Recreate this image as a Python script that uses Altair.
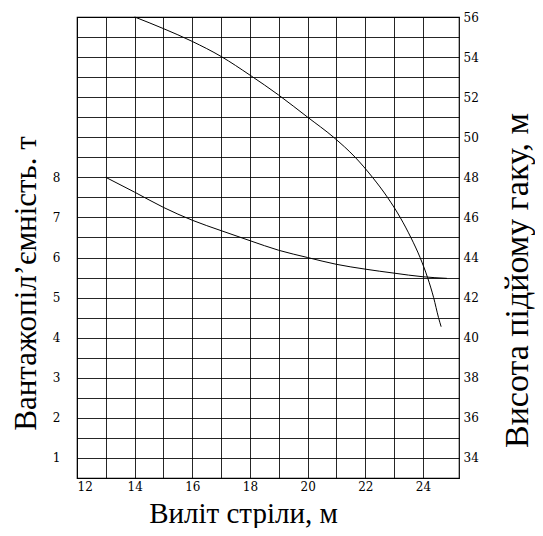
import altair as alt
import pandas as pd

# Load capacity curve (left axis, t)
reach_load = [13, 14, 15, 16, 17, 18, 19, 20, 21, 22, 23, 24, 24.83]
load_t = [8.0, 7.63, 7.25, 6.93, 6.67, 6.42, 6.18, 6.0, 5.83, 5.71, 5.61, 5.52, 5.48]

# Hook height curve (right axis, m)
reach_height = [14, 15, 16, 17, 18, 19, 20, 20.9, 21.65, 22.25, 22.77, 23.21, 23.58, 23.9, 24.16, 24.37, 24.54, 24.63]
hook_m = [56.0, 55.42, 54.78, 54.03, 53.1, 52.1, 51.0, 50.0, 49.0, 48.0, 47.0, 46.0, 45.0, 44.0, 43.0, 42.0, 41.0, 40.55]

x_grid = list(range(12, 25))
x_labels = [12, 14, 16, 18, 20, 22, 24]
left_labels = [1, 2, 3, 4, 5, 6, 7, 8]
right_grid = list(range(33, 57))
right_labels = list(range(34, 57, 2))

load_df = pd.DataFrame({"reach": reach_load, "load": load_t})
height_df = pd.DataFrame({"reach": reach_height, "height": hook_m})

SERIF = "Liberation Serif"
TICKF = "DejaVu Serif"


def expr_for(vals):
    return "indexof([" + ",".join(str(v) for v in vals) + "], datum.value) >= 0 ? datum.label : ''"


x_enc = alt.X(
    "reach:Q",
    scale=alt.Scale(domain=[12, 25.25], nice=False, zero=False),
    axis=alt.Axis(
        values=x_grid,
        labelExpr=expr_for(x_labels),
        grid=True,
        gridColor="black",
        gridOpacity=0.85,
        gridWidth=1,
        ticks=False,
        domain=False,
        labelPadding=3,
        labelFont=TICKF,
        labelFontSize=12,
        labelColor="black",
        title="Виліт стріли, м",
        titleFont=SERIF,
        titleFontSize=29,
        titleFontWeight="normal",
        titleColor="black",
        titleX=166,
        titleY=44,
        titleAlign="center",
        titleBaseline="alphabetic",
    ),
)

lower = alt.Chart(load_df).mark_line(color="black", strokeWidth=1, interpolate="monotone").encode(
    x=x_enc,
    y=alt.Y(
        "load:Q",
        scale=alt.Scale(domain=[0.5, 12], nice=False, zero=False),
        axis=alt.Axis(
            orient="left",
            values=left_labels,
            grid=False,
            ticks=False,
            domain=False,
            labelPadding=17,
            labelFont=TICKF,
            labelFontSize=12,
            labelColor="black",
            title="Вантажопіл’ємність. т",
            titleFont=SERIF,
            titleFontSize=31,
            titleFontWeight="normal",
            titleColor="black",
            titleAngle=270,
            titleX=-42,
            titleY=266,
            titleAlign="center",
            titleBaseline="alphabetic",
        ),
    ),
)

upper = alt.Chart(height_df).mark_line(color="black", strokeWidth=1, interpolate="monotone").encode(
    x=x_enc,
    y=alt.Y(
        "height:Q",
        scale=alt.Scale(domain=[33, 56], nice=False, zero=False),
        axis=alt.Axis(
            orient="right",
            values=right_grid,
            labelExpr=expr_for(right_labels),
            grid=True,
            gridColor="black",
            gridOpacity=0.85,
            gridWidth=1,
            ticks=False,
            domain=False,
            labelPadding=4,
            labelFont=TICKF,
            labelFontSize=12,
            labelColor="black",
            title="Висота підйому гаку, м",
            titleFont=SERIF,
            titleFontSize=34,
            titleFontWeight="normal",
            titleColor="black",
            titleAngle=270,
            titleX=68,
            titleY=263,
            titleAlign="center",
            titleBaseline="alphabetic",
        ),
    ),
)

chart = (
    alt.layer(lower, upper)
    .resolve_scale(y="independent")
    .properties(
        width=382,
        height=461,
        autosize=alt.AutoSizeParams(type="none"),
        padding={"left": 69, "top": 9, "right": 76, "bottom": 50},
        background="white",
    )
    .configure_view(stroke="black", strokeWidth=1.2)
)

chart.save("out.html", embed_options={"renderer": "svg", "actions": False})
